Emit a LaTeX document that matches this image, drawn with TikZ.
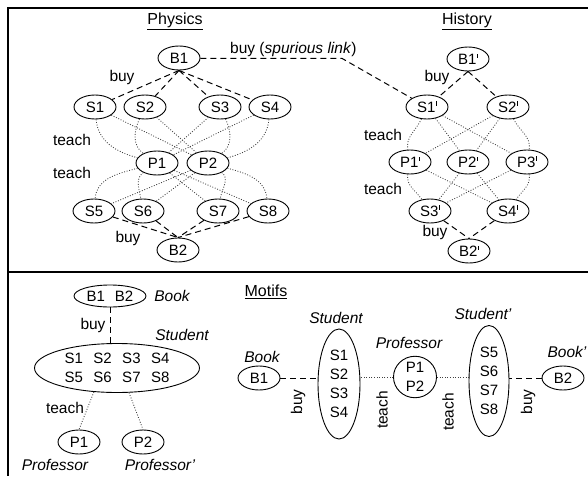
\documentclass[tikz,border=0pt]{standalone}
\usepackage{fontspec}
\setmainfont{Liberation Sans}
\usetikzlibrary{shapes.geometric}
\newcommand\nfnt{\fontsize{15}{19}\selectfont}
\newcommand\lfnt{\fontsize{15.5}{18}\selectfont}
\newcommand\hfnt{\fontsize{16}{19}\selectfont}
\newcommand\pr{\kern0.6pt\raisebox{0.45em}{\rule{0.65pt}{0.28em}}}
\begin{document}
\begin{tikzpicture}[x=1pt,y=-1pt,
  nd/.style={ellipse,draw,line width=0.9pt,minimum width=42pt,minimum height=24pt,inner sep=0pt,font=\nfnt},
  dsh/.style={dash pattern=on 6pt off 4pt,line width=1pt},
  dt/.style={dash pattern=on 0.9pt off 1.7pt,line width=0.85pt,black!75},
  lab/.style={font=\lfnt,inner sep=0pt},
  ital/.style={font=\lfnt\itshape,inner sep=0pt},
  head/.style={font=\hfnt,inner sep=0pt},
  frame/.style={line width=1.3pt}]
\useasboundingbox (0,0) rectangle (588,476);
\draw[frame] (588,8) -- (8,8) -- (8,476);
\draw[frame] (8,272) -- (588,272);

% ---------- Physics ----------
\node[head] (hphys) at (175,21) {\underline{Physics}};
\node[nd] (B1) at (179,58) {B1};
\node[nd] (S1) at (95,107) {S1};
\node[nd] (S2) at (145,107) {S2};
\node[nd] (S3) at (220,107) {S3};
\node[nd] (S4) at (270,107) {S4};
\node[nd] (P1) at (157,163) {P1};
\node[nd] (P2) at (208,163) {P2};
\node[nd] (S5) at (94,211) {S5};
\node[nd] (S6) at (143,211) {S6};
\node[nd] (S7) at (218,211) {S7};
\node[nd] (S8) at (268,211) {S8};
\node[nd] (B2) at (178,250) {B2};
\node[lab] (lbuy1) at (122,77) {buy};
\node[lab] (lteach1) at (72,140) {teach};
\node[lab] (lteach2) at (72,173) {teach};
\node[lab] (lbuy2) at (128,238) {buy};

\foreach \s in {S1,S2,S3,S4} \draw[dsh] (B1.south) -- (\s);
\foreach \s in {S5,S6,S7,S8} \draw[dsh] (\s) -- (B2.north);

\draw[dt] (S1) to[out=-85,in=165] (P1);
\draw[dt] (S2) to[out=-115,in=145] (P1);
\draw[dt] (S3) -- (P1);
\draw[dt] (S4) -- (P1);
\draw[dt] (S1) -- (P2);
\draw[dt] (S2) -- (P2);
\draw[dt] (S3) to[out=-65,in=35] (P2);
\draw[dt] (S4) to[out=-95,in=15] (P2);

\draw[dt] (P1) to[out=195,in=85] (S5);
\draw[dt] (P1) to[out=-145,in=100] (S6);
\draw[dt] (P1) -- (S7);
\draw[dt] (P1) -- (S8);
\draw[dt] (P2) -- (S5);
\draw[dt] (P2) -- (S6);
\draw[dt] (P2) to[out=-35,in=80] (S7);
\draw[dt] (P2) to[out=-15,in=95] (S8);

% ---------- History ----------
\node[head] (hhist) at (467,21) {\underline{History}};
\node[nd] (B1h) at (468,59) {B1\pr};
\node[nd] (S1h) at (427,107) {S1\pr};
\node[nd] (S2h) at (508,107) {S2\pr};
\node[nd] (P1h) at (410,162) {P1\pr};
\node[nd] (P2h) at (468,162) {P2\pr};
\node[nd] (P3h) at (527,162) {P3\pr};
\node[nd] (S3h) at (430,211) {S3\pr};
\node[nd] (S4h) at (508,211) {S4\pr};
\node[nd] (B2h) at (469,251) {B2\pr};
\node[lab] (lbuy3) at (437,77) {buy};
\node[lab] (lteach3) at (383,135) {teach};
\node[lab] (lteach4) at (383,189) {teach};
\node[lab] (lbuy4) at (435,232) {buy};

\draw[dsh] (B1h.south) -- (S1h);
\draw[dsh] (B1h.south) -- (S2h);
\draw[dsh] (S3h) -- (B2h.north);
\draw[dsh] (S4h) -- (B2h.north);

\draw[dt] (S1h) to[out=-115,in=100] (P1h);
\draw[dt] (S1h) -- (P2h);
\draw[dt] (S1h) -- (P3h);
\draw[dt] (S2h) -- (P1h);
\draw[dt] (S2h) -- (P2h);
\draw[dt] (S2h) to[out=-65,in=80] (P3h);

\draw[dt] (P1h) to[out=-100,in=125] (S3h);
\draw[dt] (P2h) -- (S3h);
\draw[dt] (P3h) -- (S3h);
\draw[dt] (P1h) -- (S4h);
\draw[dt] (P2h) -- (S4h);
\draw[dt] (P3h) to[out=-80,in=55] (S4h);

% spurious link
\node[lab,anchor=base west] (lspur) at (230,54) {buy (\textit{spurious link})};
\coordinate (spbend) at (342,58.4);
\draw[dsh] (B1.east) ++(0,0.4) -- (spbend) -- (S1h);

% ---------- bottom left ----------
\node[nd,minimum width=72pt,minimum height=22pt] (BB) at (110,296) {B1\hspace{10pt}B2};
\node[ital] (lbook) at (172,296) {Book};
\node[ellipse,draw,line width=0.9pt,minimum width=165pt,minimum height=49pt,inner sep=0pt,font=\nfnt,align=center] (Stu) at (117,368)
  {S1\hspace{10.5pt}S2\hspace{10.5pt}S3\hspace{10.5pt}S4\\S5\hspace{10.5pt}S6\hspace{10.5pt}S7\hspace{10.5pt}S8};
\node[ital] (lstu) at (182,335) {Student};
\node[lab] (lbuy5) at (93,325) {buy};
\draw[dsh] (BB.south) -- (BB.south |- Stu.north);
\node[nd] (P1m) at (79,442) {P1};
\node[nd] (P2m) at (143,442) {P2};
\node[lab] (lteach5) at (65,408) {teach};
\draw[dt] (Stu.-134) -- (P1m.north);
\draw[dt] (Stu.-64) -- (P2m.north);
\node[ital] (lprof1) at (55,465) {Professor};
\node[ital] (lprof2) at (160,465) {Professor’};

% ---------- Motifs ----------
\node[head] (hmot) at (266,292) {\underline{Motifs}};
\node[nd] (B1m) at (259,378) {B1};
\node[ital] (lbookm) at (262,357) {Book};
\node[ellipse,draw,line width=0.9pt,minimum width=42pt,minimum height=110pt,inner sep=0pt,font=\nfnt,align=center] (StuA) at (339,384) {S1\\S2\\S3\\S4};
\node[ital] (lstuA) at (336,318) {Student};
\node[ellipse,draw,line width=0.9pt,minimum width=43pt,minimum height=40pt,inner sep=0pt,font=\nfnt,align=center] (Prof) at (415,377) {P1\\P2};
\node[ital] (lprof) at (409,343) {Professor};
\node[ellipse,draw,line width=0.9pt,minimum width=40pt,minimum height=111pt,inner sep=0pt,font=\nfnt,align=center] (StuB) at (489,381) {S5\\S6\\S7\\S8};
\node[ital] (lstuB) at (483,314) {Student’};
\node[nd] (B2m) at (563,378) {B2};
\node[ital] (lbook2) at (567,352) {Book’};

\draw[dsh] (B1m.east) -- (B1m.east -| StuA.west);
\draw[dt] (Prof.west) -- (Prof.west -| StuA.east);
\draw[dt] (Prof.east) -- (Prof.east -| StuB.west);
\draw[dsh] (B2m.west) -- (B2m.west -| StuB.east);

\node[lab,rotate=90] (lbuy6) at (298,402) {buy};
\node[lab,rotate=90] (lteach6) at (382,410) {teach};
\node[lab,rotate=90] (lteach7) at (448,412) {teach};
\node[lab,rotate=90] (lbuy7) at (528,402) {buy};
\end{tikzpicture}
\end{document}
